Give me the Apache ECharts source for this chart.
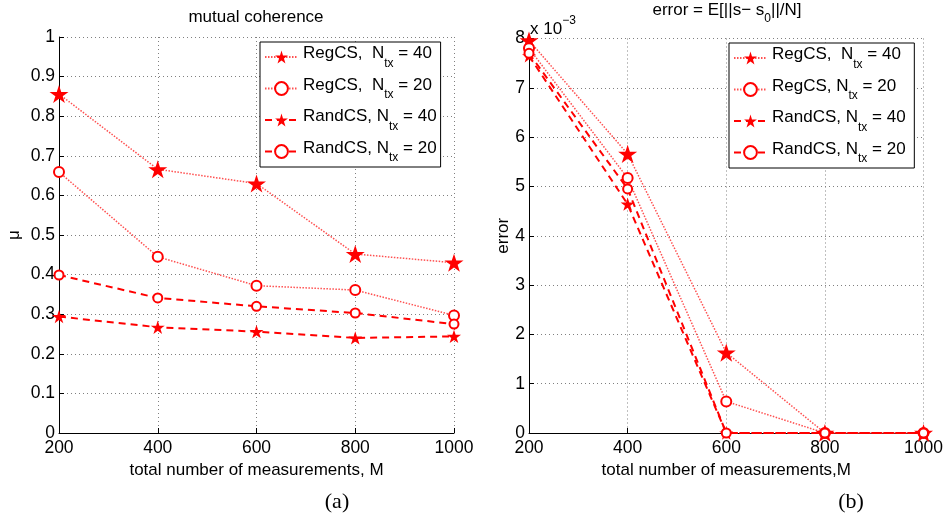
<!DOCTYPE html>
<html>
<head>
<meta charset="utf-8">
<script src="https://cdn.jsdelivr.net/npm/echarts@6/dist/echarts.min.js"></script>
<style>
  html, body { margin: 0; padding: 0; background: #fff; }
  #main { width: 946px; height: 521px; }
</style>
</head>
<body>
<div id="main"></div>
<script>
// x axis: total number of measurements
var measurements = [200, 400, 600, 800, 1000];

// (a) mutual coherence
var cohRegCS40 = [0.856, 0.666, 0.630, 0.452, 0.430];
var cohRegCS20 = [0.659, 0.445, 0.372, 0.361, 0.297];
var cohRandCS40 = [0.294, 0.267, 0.256, 0.240, 0.244];
var cohRandCS20 = [0.399, 0.341, 0.320, 0.303, 0.275];

// (b) error, in units of 1e-3
var errRegCS40 = [7.96, 5.66, 1.63, 0, 0];
var errRegCS20 = [7.80, 5.17, 0.64, 0, 0];
var errRandCS40 = [7.65, 4.64, 0, 0, 0];
var errRandCS20 = [7.70, 4.95, 0, 0, 0];

var namesLeft = ['RegCS,  Ntx = 40', 'RegCS,  Ntx = 20', 'RandCS, Ntx = 40', 'RandCS, Ntx = 20'];
var namesRight = ['RegCS,  Ntx = 40 ', 'RegCS, Ntx = 20', 'RandCS, Ntx = 40 ', 'RandCS, Ntx = 20 '];

var font = 'Liberation Sans';
var star = 'path://M50 0 L61.23 34.55 L97.55 34.55 L68.17 55.9 L79.39 90.45 L50 69.1 L20.61 90.45 L31.83 55.9 L2.45 34.55 L38.77 34.55 Z';

var myChart = echarts.init(document.getElementById('main'));

function pairs(vals) {
    return vals.map(function (v, i) { return [measurements[i], v]; });
}

// one series per curve, style picked by kind
function makeSeries(name, vals, kind, idx) {
    var s = {
        name: name,
        type: 'line',
        xAxisIndex: idx,
        yAxisIndex: idx,
        data: pairs(vals),
        clip: false,
        symbolKeepAspect: true,
        animation: false
    };
    if (kind === 'regStar') {
        s.symbol = star; s.symbolSize = 19;
        s.itemStyle = { color: '#ff0000', borderWidth: 0 };
        s.lineStyle = { color: '#ff5050', width: 1.5, type: [1.5, 1.5] };
    } else if (kind === 'regCircle') {
        s.symbol = 'emptyCircle'; s.symbolSize = 10;
        s.itemStyle = { color: '#ff0000', borderColor: '#ff0000', borderWidth: 3 };
        s.lineStyle = { color: '#ff5050', width: 1.5, type: [1.5, 1.5] };
    } else if (kind === 'randStar') {
        s.symbol = star; s.symbolSize = 14;
        s.itemStyle = { color: '#ff0000', borderWidth: 0 };
        s.lineStyle = { color: '#ff0000', width: 2, type: [7, 5] };
    } else {
        s.symbol = 'emptyCircle'; s.symbolSize = 9;
        s.itemStyle = { color: '#ff0000', borderColor: '#ff0000', borderWidth: 1.6 };
        s.lineStyle = { color: '#ff0000', width: 2, type: [7, 5] };
    }
    return s;
}

function legendFmt(name) {
    var p = name.split('Ntx');
    return '{a|' + p[0] + 'N}{s|tx}{a|' + p[1] + '}';
}

var legendRich = {
    a: { fontFamily: font, fontSize: 17, color: '#000', height: 18, verticalAlign: 'top' },
    s: { fontFamily: font, fontSize: 12, color: '#000', padding: [13, 0, 0, 0] }
};

function xAxisOf(idx) {
    return {
        gridIndex: idx, type: 'value', min: 200, max: 1000, interval: 200,
        name: idx === 0 ? 'total number of measurements, M' : 'total number of measurements,M',
        nameLocation: 'middle', nameGap: 29,
        nameTextStyle: { fontFamily: font, fontSize: 17, color: '#000' },
        axisLine: { lineStyle: { color: '#000', width: 1 } },
        axisTick: { inside: true, length: 5, lineStyle: { color: '#000' } },
        axisLabel: { fontFamily: font, fontSize: 17.5, color: '#000', margin: 6,
            formatter: function (v) { return String(v); } },
        splitLine: { show: true, lineStyle: { color: '#808080', width: 1, type: [1, 3] } }
    };
}

function yAxisOf(idx) {
    var a = {
        gridIndex: idx, type: 'value', min: 0,
        nameLocation: 'middle',
        nameTextStyle: { fontFamily: font, fontSize: 17, color: '#000' },
        axisLine: { show: true, lineStyle: { color: '#000', width: 1 } },
        axisTick: { show: true, inside: true, length: 5, lineStyle: { color: '#000' } },
        axisLabel: { fontFamily: font, fontSize: 17.5, color: '#000', margin: 4 },
        splitLine: { show: true, lineStyle: { color: '#808080', width: 1, type: [1, 3] } }
    };
    if (idx === 0) { a.max = 1; a.interval = 0.1; a.name = 'μ'; a.nameGap = 36; }
    else { a.max = 8; a.interval = 1; a.name = 'error'; a.nameGap = 17; }
    return a;
}

var option = {
    backgroundColor: '#fff',
    animation: false,
    grid: [
        { left: 59, top: 37, width: 395, height: 396 },
        { left: 529, top: 38.5, width: 395, height: 394.5 }
    ],
    xAxis: [xAxisOf(0), xAxisOf(1)],
    yAxis: [yAxisOf(0), yAxisOf(1)],
    legend: [
        {
            data: namesLeft, left: 260, top: 42, width: 190, orient: 'vertical',
            backgroundColor: '#fff', borderColor: '#000', borderWidth: 1,
            padding: [3, 4, 3, 4], itemWidth: 33, itemHeight: 16, itemGap: 7,
            selectedMode: false, formatter: legendFmt,
            textStyle: { rich: legendRich }
        },
        {
            data: namesRight, left: 729, top: 43, width: 191, orient: 'vertical',
            backgroundColor: '#fff', borderColor: '#000', borderWidth: 1,
            padding: [3, 4, 3, 4], itemWidth: 33, itemHeight: 16, itemGap: 7,
            selectedMode: false, formatter: legendFmt,
            textStyle: { rich: legendRich }
        }
    ],
    graphic: [
        { type: 'text', x: 256, y: 17, style: { text: 'mutual coherence', fontFamily: font, fontSize: 17, fill: '#000', textAlign: 'center', textVerticalAlign: 'middle' } },
        { type: 'text', x: 727, y: 13, style: {
            text: '{a|error = E[||s− s}{s|0}{a|||/N]}', textAlign: 'center', textVerticalAlign: 'middle',
            rich: {
                a: { fontFamily: font, fontSize: 17, fill: '#000', height: 18, verticalAlign: 'top' },
                s: { fontFamily: font, fontSize: 12, fill: '#000', padding: [12, 0, 0, 0] }
            }
        } },
        { type: 'text', x: 530, y: 24, style: {
            text: '{a|x 10}{b|−3}', textVerticalAlign: 'middle',
            rich: {
                a: { fontFamily: font, fontSize: 17, fill: '#000', padding: [10, 0, 0, 0] },
                b: { fontFamily: font, fontSize: 12, fill: '#000', height: 20, verticalAlign: 'top' }
            }
        } },
        { type: 'text', x: 337, y: 502, style: { text: '(a)', fontFamily: 'Liberation Serif', fontSize: 22, fill: '#000', textAlign: 'center', textVerticalAlign: 'middle' } },
        { type: 'text', x: 851, y: 502, style: { text: '(b)', fontFamily: 'Liberation Serif', fontSize: 22, fill: '#000', textAlign: 'center', textVerticalAlign: 'middle' } }
    ],
    series: [
        makeSeries(namesLeft[0], cohRegCS40, 'regStar', 0),
        makeSeries(namesLeft[1], cohRegCS20, 'regCircle', 0),
        makeSeries(namesLeft[2], cohRandCS40, 'randStar', 0),
        makeSeries(namesLeft[3], cohRandCS20, 'randCircle', 0),
        makeSeries(namesRight[0], errRegCS40, 'regStar', 1),
        makeSeries(namesRight[1], errRegCS20, 'regCircle', 1),
        makeSeries(namesRight[2], errRandCS40, 'randStar', 1),
        makeSeries(namesRight[3], errRandCS20, 'randCircle', 1)
    ]
};

myChart.setOption(option);
</script>
</body>
</html>
